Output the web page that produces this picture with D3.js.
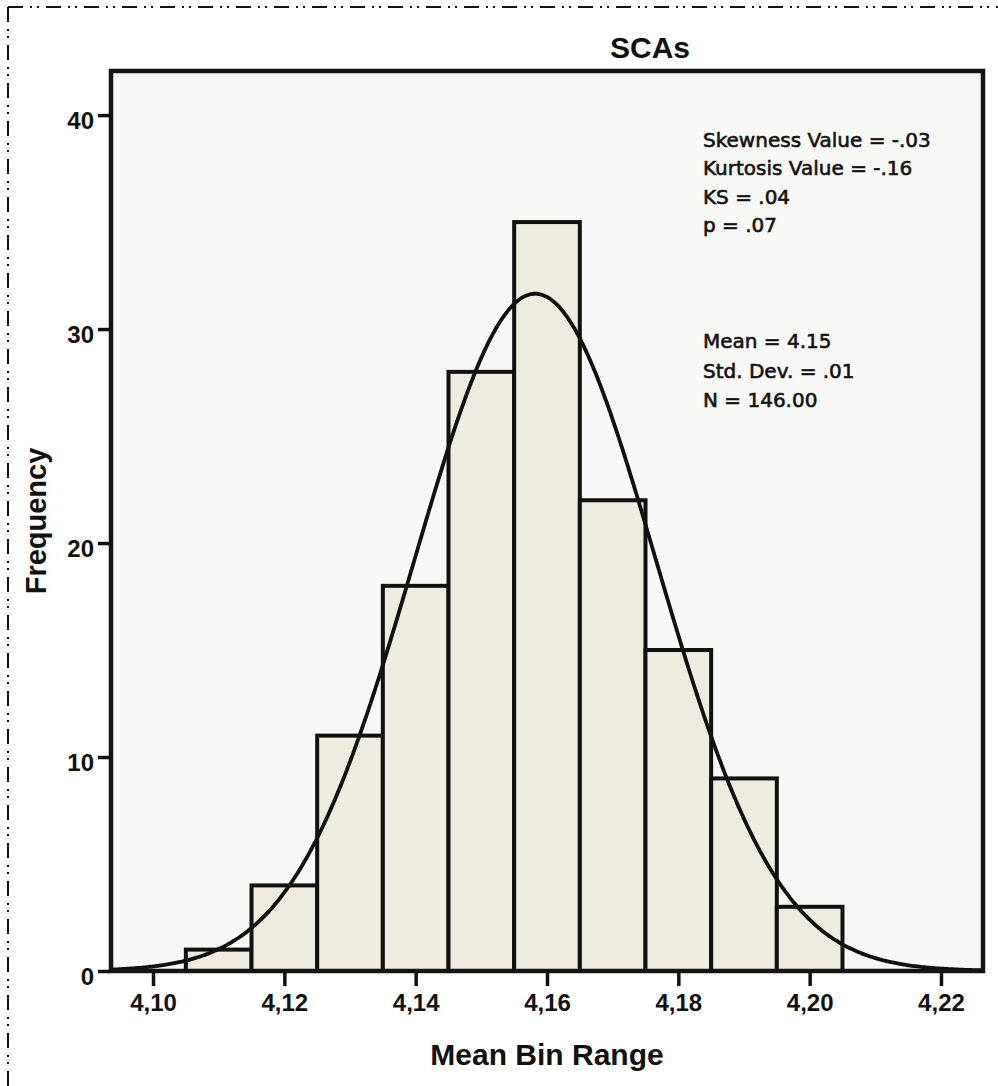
<!DOCTYPE html>
<html>
<head>
<meta charset="utf-8">
<script src="https://cdn.jsdelivr.net/npm/d3@7/dist/d3.min.js"></script>
<style>
  html, body { margin: 0; padding: 0; background: #ffffff; }
  svg { display: block; }
</style>
</head>
<body>
<script>
// ---- Data ----
const chartTitle = "SCAs";
const xAxisTitle = "Mean Bin Range";
const yAxisTitle = "Frequency";
const binCenters = [4.11, 4.12, 4.13, 4.14, 4.15, 4.16, 4.17, 4.18, 4.19, 4.20];
const frequencies = [1, 4, 11, 18, 28, 35, 22, 15, 9, 3];
const binWidth = 0.01;
const xTickValues = [4.10, 4.12, 4.14, 4.16, 4.18, 4.20, 4.22];
const xTickLabels = ["4,10", "4,12", "4,14", "4,16", "4,18", "4,20", "4,22"];
const yTickValues = [0, 10, 20, 30, 40];
const yTickLabels = ["0", "10", "20", "30", "40"];
const statsTop = ["Skewness Value = -.03", "Kurtosis Value = -.16", "KS = .04", "p = .07"];
const statsBottom = ["Mean = 4.15", "Std. Dev. = .01", "N = 146.00"];
const fitMean = 4.1582;
const fitSd = 0.0184;
const fitN = 146;

// ---- Layout ----
const W = 998, H = 1086;
const plot = { left: 111, right: 983, top: 71, bottom: 971 };

const svg = d3.select("body").append("svg")
  .attr("width", W).attr("height", H);

// dash-dot border (top and left)
const borderDash = "15,7,2,5,2,7";
svg.append("line").attr("x1", 8).attr("y1", 7).attr("x2", W).attr("y2", 7)
  .attr("stroke", "#111").attr("stroke-width", 2).attr("stroke-dasharray", borderDash);
svg.append("line").attr("x1", 8).attr("y1", 7).attr("x2", 8).attr("y2", H)
  .attr("stroke", "#111").attr("stroke-width", 2).attr("stroke-dasharray", borderDash);

const x = d3.scaleLinear().domain([4.0936, 4.2264]).range([plot.left, plot.right]);
const y = d3.scaleLinear().domain([0, 42.06]).range([plot.bottom, plot.top]);

// plot background
svg.append("rect")
  .attr("x", plot.left).attr("y", plot.top)
  .attr("width", plot.right - plot.left).attr("height", plot.bottom - plot.top)
  .attr("fill", "#f8f8f7");

// clip
svg.append("clipPath").attr("id", "plotclip").append("rect")
  .attr("x", plot.left).attr("y", plot.top)
  .attr("width", plot.right - plot.left).attr("height", plot.bottom - plot.top);

// bars
const bins = binCenters.map((c, i) => ({ x0: c - binWidth / 2, x1: c + binWidth / 2, v: frequencies[i] }));
svg.append("g").selectAll("rect").data(bins).join("rect")
  .attr("x", d => x(d.x0))
  .attr("y", d => y(d.v))
  .attr("width", d => x(d.x1) - x(d.x0))
  .attr("height", d => y(0) - y(d.v))
  .attr("fill", "#eeecdf")
  .attr("stroke", "#111")
  .attr("stroke-width", 4);

// normal curve
const pts = d3.range(x.domain()[0], x.domain()[1] + 0.0002, 0.0004).map(v => {
  const z = (v - fitMean) / fitSd;
  return [v, fitN * binWidth * Math.exp(-0.5 * z * z) / (fitSd * Math.sqrt(2 * Math.PI))];
});
svg.append("path")
  .attr("clip-path", "url(#plotclip)")
  .attr("d", d3.line().x(d => x(d[0])).y(d => y(d[1])).curve(d3.curveBasis)(pts))
  .attr("fill", "none")
  .attr("stroke", "#111")
  .attr("stroke-width", 3.8);

// frame
svg.append("rect")
  .attr("x", plot.left).attr("y", plot.top)
  .attr("width", plot.right - plot.left).attr("height", plot.bottom - plot.top)
  .attr("fill", "none").attr("stroke", "#151515").attr("stroke-width", 4.5);

// x axis
const xAxis = d3.axisBottom(x).tickValues(xTickValues)
  .tickFormat((d, i) => xTickLabels[i]).tickSize(14).tickPadding(8);
const gx = svg.append("g").attr("transform", `translate(0,${plot.bottom + 1})`).call(xAxis);
gx.select(".domain").remove();
gx.selectAll(".tick line").attr("stroke", "#111").attr("stroke-width", 3.5);
gx.selectAll(".tick text")
  .attr("fill", "#111")
  .style("font-family", "'Liberation Sans', Arial, sans-serif")
  .style("font-weight", "bold").style("font-size", "24px");

// y axis
const yAxis = d3.axisLeft(y).tickValues(yTickValues)
  .tickFormat((d, i) => yTickLabels[i]).tickSize(12).tickPadding(4);
const gy = svg.append("g").attr("transform", `translate(${plot.left - 1},0)`).call(yAxis);
gy.select(".domain").remove();
gy.selectAll(".tick line").attr("stroke", "#111").attr("stroke-width", 3.5);
gy.selectAll(".tick text")
  .attr("fill", "#111").attr("dy", "0.55em")
  .style("font-family", "'Liberation Sans', Arial, sans-serif")
  .style("font-weight", "bold").style("font-size", "24px");

// titles
svg.append("text").text(chartTitle)
  .attr("x", 650).attr("y", 58).attr("text-anchor", "middle")
  .attr("fill", "#111")
  .style("font-family", "'Liberation Sans', Arial, sans-serif")
  .style("font-weight", "bold").style("font-size", "30px");

svg.append("text").text(xAxisTitle)
  .attr("x", 547).attr("y", 1065).attr("text-anchor", "middle")
  .attr("fill", "#111")
  .style("font-family", "'Liberation Sans', Arial, sans-serif")
  .style("font-weight", "bold").style("font-size", "30px");

svg.append("text").text(yAxisTitle)
  .attr("transform", "translate(46,521) rotate(-90)")
  .attr("text-anchor", "middle")
  .attr("fill", "#111")
  .style("font-family", "'Liberation Sans', Arial, sans-serif")
  .style("font-weight", "bold").style("font-size", "29px");

// stats text
const statFont = "'DejaVu Sans', Verdana, sans-serif";
svg.append("g").selectAll("text").data(statsTop).join("text")
  .text(d => d)
  .attr("x", 703).attr("y", (d, i) => 147 + i * 28.3)
  .attr("fill", "#111").attr("stroke", "#111").attr("stroke-width", 0.6)
  .style("font-family", statFont).style("font-size", "20px");
svg.append("g").selectAll("text").data(statsBottom).join("text")
  .text(d => d)
  .attr("x", 703).attr("y", (d, i) => 348 + i * 29.5)
  .attr("fill", "#111").attr("stroke", "#111").attr("stroke-width", 0.6)
  .style("font-family", statFont).style("font-size", "20px");
</script>
</body>
</html>
